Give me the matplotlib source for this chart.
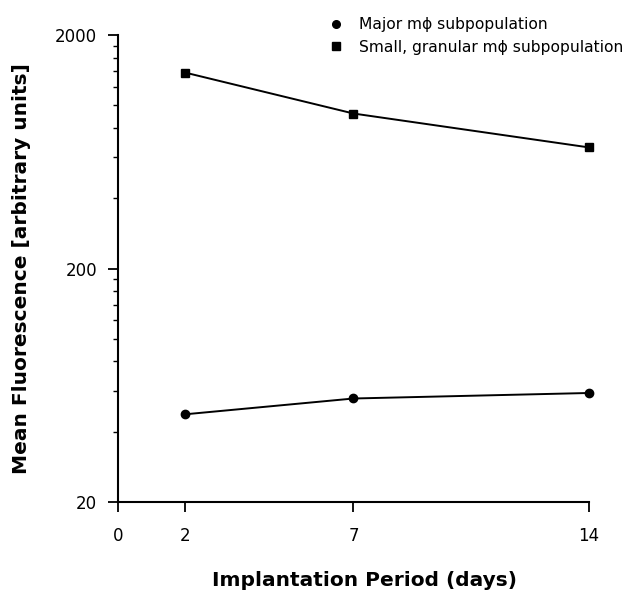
import matplotlib
matplotlib.use("Agg")
import matplotlib.pyplot as plt
from matplotlib.ticker import FixedLocator, NullFormatter

days = [2, 7, 14]
major_mphi = [47.5, 55.5, 58.6]
small_granular_mphi = [1380, 922, 660]
x_ticks = [0, 2, 7, 14]
y_major = [20, 200, 2000]
y_minor = [20 * k for k in range(2, 10)] + [200 * k for k in range(2, 10)]
labels = ["Major m\u03d5 subpopulation", "Small, granular m\u03d5 subpopulation"]

plt.rcParams['font.family'] = ['DejaVu Sans']
fig = plt.figure(figsize=(6.31, 5.96), dpi=100)
ax = fig.add_axes([118/631, 1 - 502/596, (589-118)/631, (502-35)/596])

ax.plot(days, major_mphi, color='black', lw=1.4, marker='o', ms=6, clip_on=False, label=labels[0])
ax.plot(days, small_granular_mphi, color='black', lw=1.4, marker='s', ms=5.5, clip_on=False, label=labels[1])

ax.set_yscale('log')
ax.set_ylim(20, 2000)
ax.set_xlim(0, 14)
ax.set_xticks(x_ticks)
ax.set_xticklabels([str(t) for t in x_ticks])
ax.yaxis.set_major_locator(FixedLocator(y_major))
ax.set_yticklabels([str(t) for t in y_major])
ax.yaxis.set_minor_locator(FixedLocator(y_minor))
ax.yaxis.set_minor_formatter(NullFormatter())

for s in ['top', 'right']:
    ax.spines[s].set_visible(False)
for s in ['left', 'bottom']:
    ax.spines[s].set_linewidth(1.5)

ax.tick_params(axis='both', which='major', length=7, width=1.3, direction='out', labelsize=12, pad=11)
ax.tick_params(axis='y', which='minor', length=3.5, width=1.0, direction='out')
ax.tick_params(axis='y', which='major', pad=8)

ax.set_xlabel("Implantation Period (days)", fontsize=14.5, fontweight='bold')
ax.xaxis.set_label_coords(0.524, -0.148)
ax.set_ylabel("Mean Fluorescence [arbitrary units]", fontsize=14.5, fontweight='bold', labelpad=17)

fig.legend(loc='upper left', bbox_to_anchor=(314/631, 1 - 3/596), frameon=False,
           fontsize=11.2, handlelength=1.0, handletextpad=1.0, labelspacing=0.5)
leg = fig.legends[0]
for line in leg.get_lines():
    line.set_linestyle('none')
    line.set_markersize(5.5)

fig.savefig("out.png", dpi=100)
